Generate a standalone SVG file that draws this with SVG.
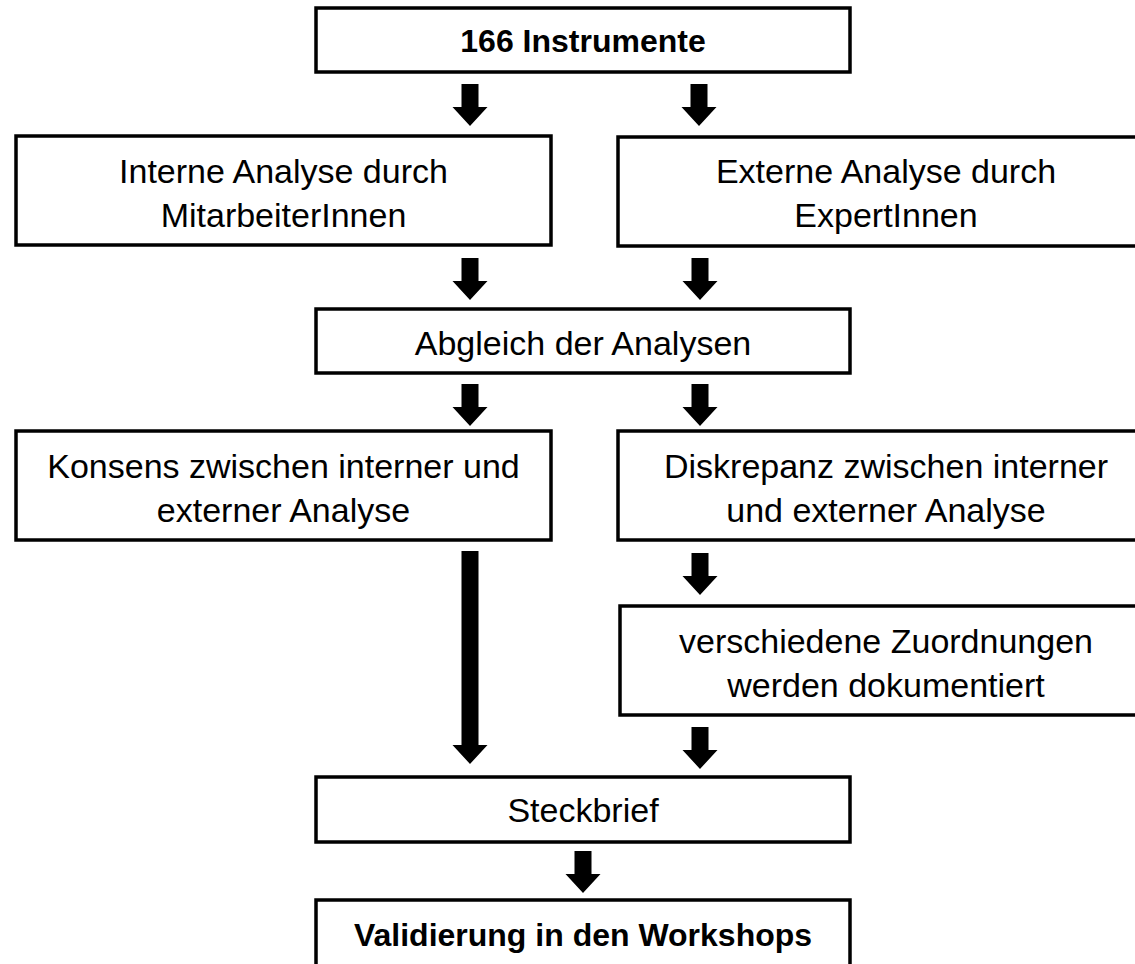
<svg xmlns="http://www.w3.org/2000/svg" xmlns:xlink="http://www.w3.org/1999/xlink" width="1135" height="964" viewBox="0 0 1135 964">
<style>
.box{fill:#fff;stroke:#000;stroke-width:3.5;stroke-linejoin:miter}
.t{font-family:"Liberation Sans",Arial,sans-serif;font-size:34px;fill:#000;text-anchor:middle}
.b{font-family:"Liberation Sans",Arial,sans-serif;font-size:32px;font-weight:bold;fill:#000;text-anchor:middle}
.arr{fill:#000}
</style>
<defs>
<path id="arrow" d="M -8.5 0 H 8.5 V 23 H 17.5 L 0 42 L -17.5 23 H -8.5 Z"/>
</defs>
<rect width="1135" height="964" fill="#fff"/>
<g id="connectors" class="arr">
<use xlink:href="#arrow" href="#arrow" transform="translate(470,84)"/>
<use xlink:href="#arrow" href="#arrow" transform="translate(699,84)"/>
<use xlink:href="#arrow" href="#arrow" transform="translate(470,258)"/>
<use xlink:href="#arrow" href="#arrow" transform="translate(700,258)"/>
<use xlink:href="#arrow" href="#arrow" transform="translate(470,384)"/>
<use xlink:href="#arrow" href="#arrow" transform="translate(700,384)"/>
<path d="M 461.5 551 H 478.5 V 745 H 487.5 L 470 764 L 452.5 745 H 461.5 Z"/>
<use xlink:href="#arrow" href="#arrow" transform="translate(700,553)"/>
<use xlink:href="#arrow" href="#arrow" transform="translate(700,727)"/>
<use xlink:href="#arrow" href="#arrow" transform="translate(583,851)"/>
</g>
<g id="n-instrumente">
<rect class="box" x="316" y="8" width="534" height="64"/>
<text class="b" x="583" y="52">166 Instrumente</text>
</g>
<g id="n-intern">
<rect class="box" x="16" y="136" width="535" height="109"/>
<text class="t" x="283.5" y="183">Interne Analyse durch</text>
<text class="t" x="283.5" y="227">MitarbeiterInnen</text>
</g>
<g id="n-extern">
<rect class="box" x="618" y="137" width="536" height="109"/>
<text class="t" x="886" y="183">Externe Analyse durch</text>
<text class="t" x="886" y="227">ExpertInnen</text>
</g>
<g id="n-abgleich">
<rect class="box" x="316" y="309" width="534" height="64"/>
<text class="t" x="583" y="355">Abgleich der Analysen</text>
</g>
<g id="n-konsens">
<rect class="box" x="16" y="431" width="535" height="109"/>
<text class="t" x="283.5" y="478">Konsens zwischen interner und</text>
<text class="t" x="283.5" y="522">externer Analyse</text>
</g>
<g id="n-diskrepanz">
<rect class="box" x="618" y="431" width="536" height="109"/>
<text class="t" x="886" y="478">Diskrepanz zwischen interner</text>
<text class="t" x="886" y="522">und externer Analyse</text>
</g>
<g id="n-zuordnungen">
<rect class="box" x="620" y="606" width="536" height="109"/>
<text class="t" x="886" y="653">verschiedene Zuordnungen</text>
<text class="t" x="886" y="697">werden dokumentiert</text>
</g>
<g id="n-steckbrief">
<rect class="box" x="316" y="777" width="534" height="65"/>
<text class="t" x="583" y="822">Steckbrief</text>
</g>
<g id="n-validierung">
<rect class="box" x="316" y="900" width="534" height="70"/>
<text class="b" x="583" y="946">Validierung in den Workshops</text>
</g>
</svg>
